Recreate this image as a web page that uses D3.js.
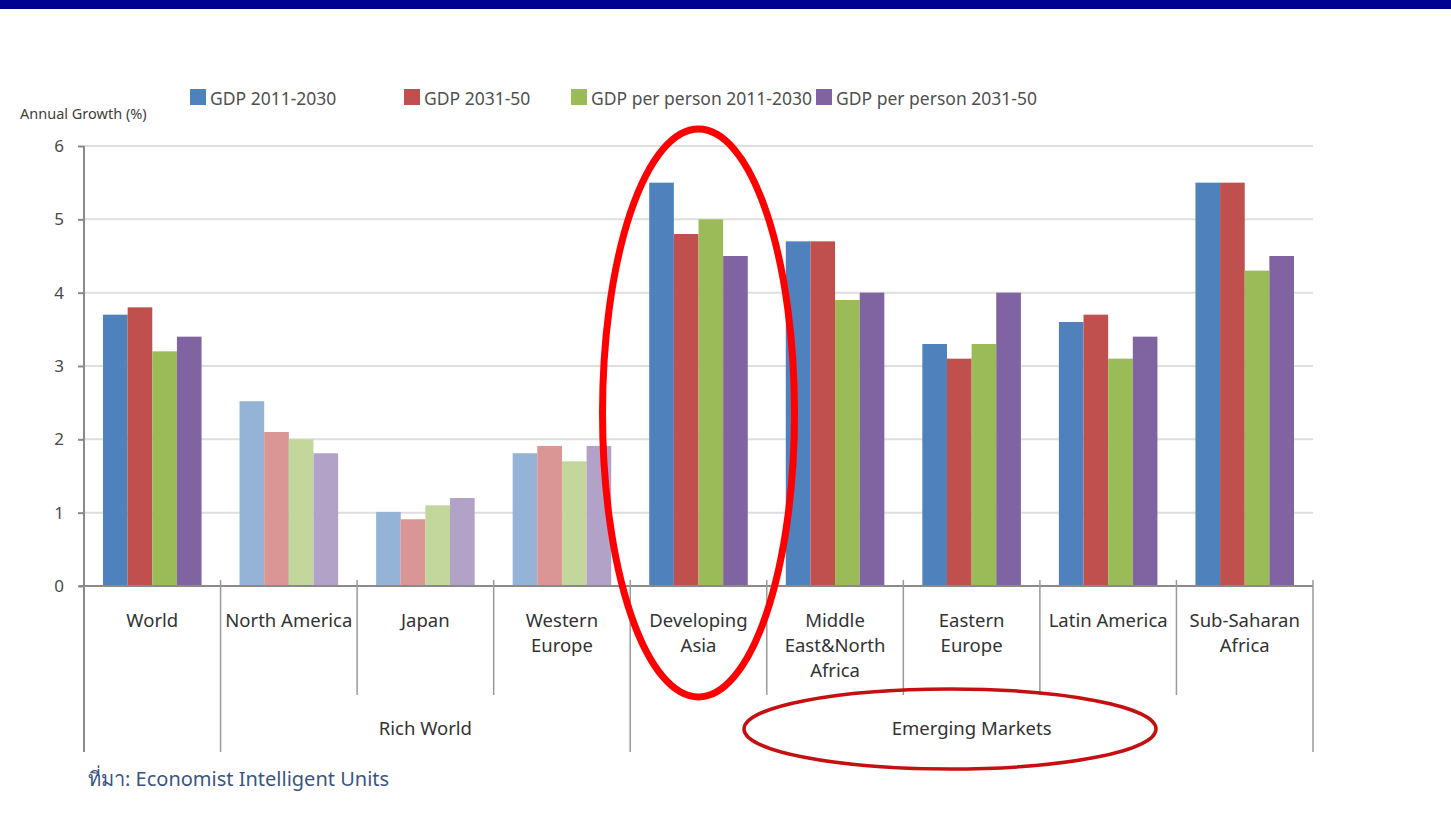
<!DOCTYPE html>
<html>
<head>
<meta charset="utf-8">
<script src="https://cdn.jsdelivr.net/npm/d3@7"></script>
<style>
  html, body { margin: 0; padding: 0; background: #fff; }
  svg { display: block; }
  text { font-family: "Noto Sans", "DejaVu Sans", sans-serif; }
</style>
</head>
<body>
<svg id="chart" width="1451" height="815"></svg>
<script>
// ---- data ----
const categories = ["World", "North America", "Japan", "Western Europe", "Developing Asia",
  "Middle East&North Africa", "Eastern Europe", "Latin America", "Sub-Saharan Africa"];
const categoryLines = [["World"], ["North America"], ["Japan"], ["Western", "Europe"],
  ["Developing", "Asia"], ["Middle", "East&North", "Africa"], ["Eastern", "Europe"],
  ["Latin America"], ["Sub-Saharan", "Africa"]];
const seriesNames = ["GDP 2011-2030", "GDP 2031-50", "GDP per person 2011-2030", "GDP per person 2031-50"];
const gdp2011 = [3.7, 2.52, 1.01, 1.81, 5.5, 4.7, 3.3, 3.6, 5.5];
const gdp2031 = [3.8, 2.1, 0.91, 1.91, 4.8, 4.7, 3.1, 3.7, 5.5];
const gdpPP2011 = [3.2, 2.0, 1.1, 1.7, 5.0, 3.9, 3.3, 3.1, 4.3];
const gdpPP2031 = [3.4, 1.81, 1.2, 1.91, 4.5, 4.0, 4.0, 3.4, 4.5];
const yTicks = [0, 1, 2, 3, 4, 5, 6];
const groupNames = ["", "Rich World", "Emerging Markets"];
const groupOf = ["", "Rich World", "Rich World", "Rich World", "Emerging Markets",
  "Emerging Markets", "Emerging Markets", "Emerging Markets", "Emerging Markets"];
const fadedGroup = "Rich World";
const colors = ["#4F81BD", "#C0504D", "#9BBB59", "#8064A2"];
const fadedColors = ["#95B3D7", "#D99694", "#C3D69B", "#B3A2C7"];
const yTitle = "Annual Growth (%)";
const sourceText = "ที่มา: Economist Intelligent Units";
const highlightCategory = "Developing Asia";

const seriesValues = [gdp2011, gdp2031, gdpPP2011, gdpPP2031];

(function () {
// ---- layout ----
const svg = d3.select("#chart");
const mLeft = 84, mRight = 1313, mTop = 146, mBottom = 586;

const x = d3.scaleBand().domain(categories).range([mLeft, mRight]).padding(0);
const bw = x.bandwidth();
const x1 = d3.scaleBand().domain(seriesNames).range([19, bw - 19]).padding(0);
const y = d3.scaleLinear().domain([0, 6]).range([mBottom, mTop]);

// top banner
svg.append("rect").attr("x", 0).attr("y", 0).attr("width", 1451).attr("height", 9).attr("fill", "#000091");

// gridlines
svg.append("g").selectAll("line").data(yTicks.filter(d => d > 0)).join("line")
  .attr("x1", mLeft).attr("x2", mRight)
  .attr("y1", d => y(d)).attr("y2", d => y(d))
  .attr("stroke", "#dedede").attr("stroke-width", 2);

// y axis
const yAxis = d3.axisLeft(y).tickValues(yTicks).tickSize(6).tickPadding(14).tickFormat(d3.format("d"));
const yg = svg.append("g").attr("transform", `translate(${mLeft},0)`).call(yAxis);
yg.select(".domain").remove();
yg.selectAll(".tick line").attr("stroke", "#8a8a8a").attr("stroke-width", 2);
yg.selectAll(".tick text").attr("font-size", 17).attr("fill", "#4a4a4a")
  .style("font-family", '"Noto Sans", sans-serif');
svg.append("line").attr("x1", mLeft).attr("x2", mLeft).attr("y1", mTop).attr("y2", 752)
  .attr("stroke", "#8a8a8a").attr("stroke-width", 2);

// bars
const gCat = svg.append("g").selectAll("g").data(categories).join("g")
  .attr("transform", d => `translate(${x(d)},0)`);
gCat.selectAll("rect")
  .data((c, ci) => seriesNames.map((s, si) => ({ c, ci, s, si, v: seriesValues[si][ci] })))
  .join("rect")
  .attr("x", d => x1(d.s))
  .attr("width", x1.bandwidth())
  .attr("y", d => y(d.v))
  .attr("height", d => y(0) - y(d.v))
  .attr("fill", d => groupOf[d.ci] === fadedGroup ? fadedColors[d.si] : colors[d.si]);

// x axis line
svg.append("line").attr("x1", 79).attr("x2", mRight).attr("y1", y(0)).attr("y2", y(0))
  .attr("stroke", "#8a8a8a").attr("stroke-width", 2);

// separators
const boundaries = categories.map((c, i) => i).concat([categories.length]);
svg.append("g").selectAll("line").data(boundaries.slice(1)).join("line")
  .attr("x1", i => i < categories.length ? x(categories[i]) : mRight)
  .attr("x2", i => i < categories.length ? x(categories[i]) : mRight)
  .attr("y1", 580)
  .attr("y2", i => (i === categories.length || groupOf[i] !== groupOf[i - 1]) ? 752 : 695)
  .attr("stroke", "#9a9a9a").attr("stroke-width", 1.5);

// category labels
const lab = svg.append("g").selectAll("text").data(categories).join("text")
  .attr("x", d => x(d) + bw / 2)
  .attr("y", 627)
  .attr("text-anchor", "middle")
  .attr("font-size", 18.5)
  .attr("fill", "#333");
lab.each(function (d, i) {
  d3.select(this).selectAll("tspan").data(categoryLines[i]).join("tspan")
    .attr("x", x(d) + bw / 2)
    .attr("dy", (t, j) => j === 0 ? 0 : 25)
    .text(t => t);
});

// group labels
groupNames.filter(g => g).forEach(g => {
  const idx = categories.map((c, i) => i).filter(i => groupOf[i] === g);
  const x0 = x(categories[idx[0]]);
  const xe = x(categories[idx[idx.length - 1]]) + bw;
  svg.append("text").attr("x", (x0 + xe) / 2).attr("y", 735)
    .attr("text-anchor", "middle").attr("font-size", 18.5).attr("fill", "#333").text(g);
});

// y title
svg.append("text").attr("x", 20).attr("y", 119).attr("font-size", 14.5).attr("fill", "#404040").text(yTitle);

// legend
const legendX = [190, 404, 571, 816];
const lg = svg.append("g").selectAll("g").data(seriesNames).join("g")
  .attr("transform", (d, i) => `translate(${legendX[i]},89)`);
lg.append("rect").attr("width", 16).attr("height", 16).attr("fill", (d, i) => colors[i]);
lg.append("text").attr("x", 20).attr("y", 16).attr("font-size", 17.5).attr("fill", "#505050").text(d => d);

// source
svg.append("text").attr("x", 88).attr("y", 786).attr("font-size", 20).attr("fill", "#3a5582").text(sourceText);

// highlight ellipses
svg.append("ellipse").attr("cx", x(highlightCategory) + bw / 2).attr("cy", 413)
  .attr("rx", 96).attr("ry", 284).attr("fill", "none").attr("stroke", "#ff0000").attr("stroke-width", 7);
svg.append("ellipse").attr("cx", 950).attr("cy", 729)
  .attr("rx", 206).attr("ry", 40).attr("fill", "none").attr("stroke", "#c41010").attr("stroke-width", 3.5);
})();
</script>
</body>
</html>
